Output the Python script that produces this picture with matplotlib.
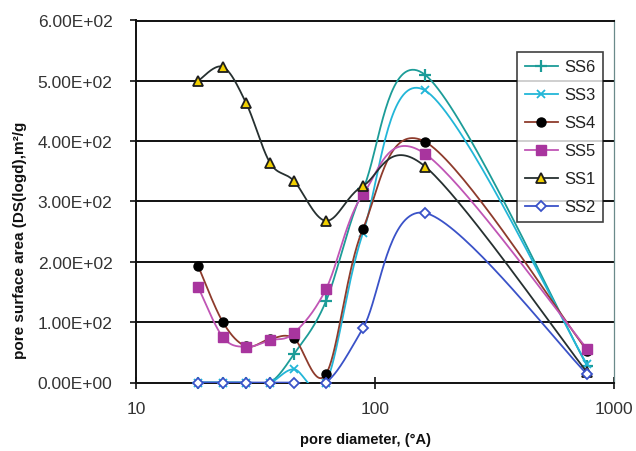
import numpy as np
import matplotlib
matplotlib.use("Agg")
import matplotlib.pyplot as plt
from matplotlib.lines import Line2D
from matplotlib.ticker import FuncFormatter, FixedLocator, NullLocator

plt.rcParams['font.family'] = ['Liberation Sans', 'DejaVu Sans']

# ---- data ----
pore_diameter = [18.2, 23.1, 28.9, 36.4, 45.8, 62.4, 89.1, 162, 771]
series_names = ["SS6", "SS3", "SS4", "SS5", "SS1", "SS2"]
SS6 = [0, 0, 0, 0, 47, 135, 320, 510, 28]
SS3 = [0, 0, 0, 0, 22, 0, 248, 484, 30]
SS4 = [193, 100, 60, 72, 73, 14, 255, 399, 53]
SS5 = [158, 75, 59, 70, 82, 155, 312, 379, 56]
SS1 = [500, 523, 463, 364, 334, 268, 326, 358, 17]
SS2 = [0, 0, 0, 0, 0, 0, 90, 281, 14]
y_ticks = [0, 100, 200, 300, 400, 500, 600]
x_ticks = [10, 100, 1000]

W, H = 636, 452
L, R, B, T = 136, 614, 383.5, 21.5
AW, AH = R - L, B - T

fig = plt.figure(figsize=(W / 100, H / 100), dpi=100)
ax = fig.add_axes([L / W, 1 - B / H, AW / W, AH / H])


def smooth(xs, ys, n=40):
    """Excel-like smoothed line (Bezier through points) in screen-like space."""
    u = (np.log10(np.asarray(xs, float)) - 1) / 2 * AW
    v = np.asarray(ys, float) / 600 * AH
    P = np.column_stack([u, v])
    out = []
    m = len(P)
    t = np.linspace(0, 1, n)[:, None]
    for i in range(m - 1):
        p0 = P[i - 1] if i > 0 else P[i]
        p1 = P[i]
        p2 = P[i + 1]
        p3 = P[i + 2] if i + 2 < m else P[i + 1]
        c1 = p1 + (p2 - p0) / 6
        c2 = p2 - (p3 - p1) / 6
        seg = ((1 - t) ** 3) * p1 + 3 * ((1 - t) ** 2) * t * c1 + 3 * (1 - t) * t ** 2 * c2 + t ** 3 * p2
        out.append(seg if i == 0 else seg[1:])
    S = np.vstack(out)
    return 10 ** (1 + S[:, 0] / AW * 2), S[:, 1] / AH * 600


styles = {
    "SS6": dict(line="#1c9c98", marker="+", mfc="#1c9c98", mec="#1c9c98", ms=8, mew=1.6),
    "SS3": dict(line="#22b6d8", marker="x", mfc="#22b6d8", mec="#22b6d8", ms=6, mew=1.3),
    "SS4": dict(line="#8e3b2c", marker="o", mfc="black", mec="black", ms=6.5, mew=1),
    "SS5": dict(line="#c055b5", marker="s", mfc="#a8359e", mec="#a8359e", ms=7, mew=1),
    "SS1": dict(line="#263030", marker="^", mfc="#f2d000", mec="#1e1e1e", ms=7.5, mew=1.3),
    "SS2": dict(line="#3a52c8", marker="D", mfc="white", mec="#3a52c8", ms=5.5, mew=1.3),
}
data = {"SS6": SS6, "SS3": SS3, "SS4": SS4, "SS5": SS5, "SS1": SS1, "SS2": SS2}

# grid lines
for yv in y_ticks[1:]:
    ax.axhline(yv, color="#111111", lw=1.4, zorder=1)

handles = []
for k, name in enumerate(series_names):
    st = styles[name]
    sx, sy = smooth(pore_diameter, data[name])
    ax.plot(sx, sy, color=st["line"], lw=1.3, zorder=3 + k, clip_on=True)
    ax.plot(pore_diameter, data[name], linestyle="none", marker=st["marker"],
            mfc=st["mfc"], mec=st["mec"], ms=st["ms"], mew=st["mew"], zorder=3 + k + 0.5,
            clip_on=False)
    handles.append(Line2D([], [], color=st["line"], lw=1.3, marker=st["marker"],
                          mfc=st["mfc"], mec=st["mec"], ms=st["ms"], mew=st["mew"]))

ax.set_xscale("log")
ax.set_xlim(10, 1000)
ax.set_ylim(0, 600)
ax.xaxis.set_major_locator(FixedLocator(x_ticks))
ax.xaxis.set_minor_locator(NullLocator())
ax.xaxis.set_major_formatter(FuncFormatter(lambda v, p: f"{v:g}"))
ax.yaxis.set_major_locator(FixedLocator(y_ticks))
ax.yaxis.set_major_formatter(FuncFormatter(lambda v, p: f"{v:.2E}"))

ax.tick_params(axis="y", direction="out", length=4, width=1.2, labelsize=12.5, pad=13, colors="#111111")
ax.tick_params(axis="x", direction="inout", length=8, width=1.2, labelsize=12.5, pad=9, colors="#111111")
for lab in ax.get_xticklabels() + ax.get_yticklabels():
    lab.set_color("#333333")

for s in ["left", "bottom"]:
    ax.spines[s].set_color("#111111")
    ax.spines[s].set_linewidth(1.4)
ax.spines["top"].set_color("#111111")
ax.spines["top"].set_linewidth(1.4)
ax.spines["right"].set_color("#6a8a8a")
ax.spines["right"].set_linewidth(0.9)

leg = ax.legend(handles, series_names, loc="upper left",
                bbox_to_anchor=((517 - L) / AW, (B - 53) / AH),
                fontsize=12, frameon=True, fancybox=False, numpoints=1,
                handlelength=2.0, handletextpad=0.4, labelspacing=0.78,
                borderpad=0.45, borderaxespad=0)
leg.get_frame().set_edgecolor("#111111")
leg.get_frame().set_linewidth(1.2)
leg.set_zorder(20)
for t in leg.get_texts():
    t.set_color("#222222")

fig.text(20 / W, 1 - 240 / H, "pore surface area (DS(logd),m²/g", rotation=90,
         ha="center", va="center", fontsize=11, fontweight="bold", color="#111111")
fig.text(365 / W, 1 - 440 / H, "pore diameter, (°A)", ha="center", va="center",
         fontsize=10.5, fontweight="bold", color="#111111")

fig.savefig("out.png", dpi=100)
